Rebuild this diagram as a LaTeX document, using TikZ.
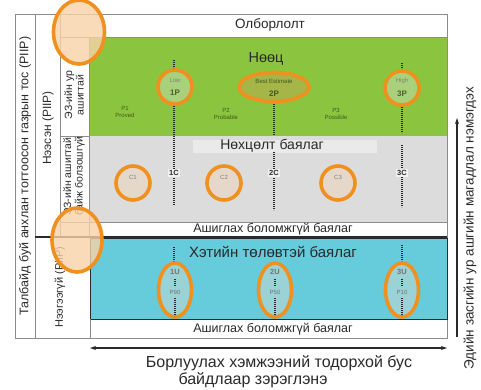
\documentclass[tikz,border=0pt]{standalone}
\usepackage{fontspec}
\setmainfont{Liberation Sans}
\usetikzlibrary{arrows.meta,shapes.geometric}
\definecolor{bandgreen}{HTML}{8BC53F}
\definecolor{bandgrey}{HTML}{DCDCDC}
\definecolor{bandblue}{HTML}{66CBDB}
\definecolor{ringorange}{HTML}{F0901E}
\definecolor{peach}{HTML}{F9D2A8}
\definecolor{framegrey}{HTML}{8C8C8C}
\definecolor{pgreen}{HTML}{A9D07A}
\definecolor{polive}{HTML}{A5B548}
\definecolor{cbeige}{HTML}{E6D7CB}
\definecolor{uteal}{HTML}{9AD2D6}
\definecolor{darktxt}{HTML}{2A2A2A}
\definecolor{lbltxt}{HTML}{3F5A22}
\tikzset{
  frameline/.style={draw=framegrey, line width=0.8pt},
  ring/.style={draw=ringorange, line width=3.6pt},
  dotline/.style={draw=darktxt, line width=2pt, dash pattern=on 1.1pt off 0.9pt},
  small/.style={font=\fontsize{6}{7}\selectfont, text=lbltxt, align=center, inner sep=0pt},
  inner/.style={font=\fontsize{6}{7}\selectfont, text=gray, inner sep=0pt},
  bold/.style={font=\fontsize{8}{9}\selectfont\bfseries, inner sep=0pt},
  band/.style={font=\fontsize{12.5}{14}\selectfont, text=darktxt, inner sep=0pt},
  title/.style={font=\fontsize{14}{16}\selectfont, text=darktxt, inner sep=0pt},
  side/.style={font=\fontsize{12.5}{14}\selectfont, text=darktxt, rotate=90, inner sep=0pt},
}
\begin{document}
\begin{tikzpicture}[x=1pt,y=-1pt]
\useasboundingbox (0,0) rectangle (481,389);
% bands
\fill[bandgreen] (89,37) rectangle (447,136);
\fill[bandgrey] (89,136) rectangle (447,222);
\fill[bandblue] (90,238) rectangle (447,319);
% grid lines
\draw[frameline] (15,14) rectangle (447,338);
\draw[frameline] (35,14) -- (35,338);
\draw[frameline] (60,14) -- (60,237);
\draw[frameline] (60,37) -- (447,37);
\draw[frameline] (89,37) -- (89,237);
\draw[frameline] (60,136) -- (89,136);
\draw[frameline] (60,222) -- (447,222);
\draw[draw=darktxt, line width=0.9pt] (90,238) rectangle (447,319);
\draw[draw=darktxt, line width=1.6pt] (35,237) -- (447,237);
\draw[frameline] (90,319) -- (90,338);
% light box behind title
\node[fill=white!40!bandgrey, minimum width=184pt, minimum height=13pt, inner sep=0pt] (nbox) at (285,146) {};
% dotted lines
\coordinate (d1a) at (174,60); \coordinate (d1b) at (174,205);
\coordinate (d2a) at (274,100); \coordinate (d2b) at (274,135);
\coordinate (d2c) at (274,152); \coordinate (d2d) at (274,210);
\coordinate (d3a) at (402,63); \coordinate (d3b) at (402,133);
\coordinate (d3c) at (402,145); \coordinate (d3d) at (402,207);
\coordinate (u1a) at (174,247); \coordinate (u1b) at (174,318);
\coordinate (u3a) at (402,245); \coordinate (u3b) at (402,318);
\draw[dotline] (d1a) -- (d1b);
\draw[dotline] (d2a) -- (d2b);
\draw[dotline] (d2c) -- (d2d);
\draw[dotline] (d3a) -- (d3b);
\draw[dotline] (d3c) -- (d3d);
\draw[dotline] (u1a) -- (u1b);
\draw[dotline] (u3a) -- (u3b);
\coordinate (u2a) at (275,270); \coordinate (u2b) at (275,318);
\draw[dotline] (u2a) -- (u2b);
% C labels on lines
\node[bold, fill=white!60!bandgrey, inner sep=1pt, font=\fontsize{7.5}{8}\selectfont\bfseries, text=darktxt] (c1l) at (174,173) {1C};
\node[bold, fill=white!60!bandgrey, inner sep=1pt, font=\fontsize{7.5}{8}\selectfont\bfseries, text=darktxt] (c2l) at (274,173) {2C};
\node[bold, fill=white!60!bandgrey, inner sep=1pt, font=\fontsize{7.5}{8}\selectfont\bfseries, text=darktxt] (c3l) at (402,173) {3C};
% texts in bands
\node[title, font=\fontsize{13.5}{15}\selectfont] (olb) at (270,25) {Олборлолт};
\node[title, font=\fontsize{14.5}{16}\selectfont] (noots) at (266,59) {Нөөц};
\node[small] (p1) at (125,112) {P1\\Proved};
\node[small] (p2) at (226,114) {P2\\Probable};
\node[small] (p3) at (336,114) {P3\\Possible};
\node[title] (nokh) at (272,146) {Нөхцөлт баялаг};
\node[band] (ash1) at (273,229.5) {Ашиглах боломжгүй баялаг};
\node[title, font=\fontsize{15}{17}\selectfont] (khet) at (273,252) {Хэтийн төлөвтэй баялаг};
\node[band] (ash2) at (273,329) {Ашиглах боломжгүй баялаг};
% P ellipses
\node[circle, ring, fill=pgreen, minimum size=34pt] (e1p) at (175,87) {};
\node[inner] at (175,80) {Low};
\node[bold, text=lbltxt!80!gray] (t1p) at (175,93) {1P};
\node[ellipse, ring, fill=polive, minimum width=70pt, minimum height=29pt] (e2p) at (274,87) {};
\node[inner, text=lbltxt] at (274,81) {Best Estimate};
\node[bold, text=lbltxt] (t2p) at (274,94) {2P};
\node[circle, ring, fill=pgreen, minimum size=34pt] (e3p) at (402,88) {};
\node[inner] at (402,81) {High};
\node[bold, text=lbltxt!80!gray] (t3p) at (402,94) {3P};
% C circles
\node[circle, ring, fill=cbeige, minimum size=34pt] (ec1) at (133,183) {};
\node[inner] at (133,177) {C1};
\node[circle, ring, fill=cbeige, minimum size=34pt] (ec2) at (224,183) {};
\node[inner] at (224,177) {C2};
\node[circle, ring, fill=cbeige, minimum size=34pt] (ec3) at (338,183) {};
\node[inner] at (338,177) {C3};
% U ellipses
\foreach \x/\n/\p in {175/1/P90, 275/2/P50, 402/3/P10}{
  \node[ellipse, ring, fill=uteal, minimum width=33pt, minimum height=54pt] (eu\n) at (\x,290) {};
  \draw[dotline] (\x,279) -- (\x,286);
  \draw[dotline] (\x,298) -- (\x,316);
  \node[bold, text=gray!90!black, font=\fontsize{7.5}{8}\selectfont\bfseries] (tu\n) at (\x,272) {\n U};
  \node[inner, text=gray!90!black] (pu\n) at (\x,292) {\p};
}
% left labels
\node[side] (lab1) at (25,176) {Талбайд буй анхлан тогтоосон газрын тос (PIIP)};
\node[side, font=\fontsize{12}{14}\selectfont] (lab2) at (48,128) {Нээсэн (PIIP)};
\node[side, font=\fontsize{11}{13}\selectfont] (lab3) at (60,287) {Нээгээгүй (PIIP)};
\node[side, font=\fontsize{10.5}{11.5}\selectfont, align=center] (lab4) at (74,95) {ЭЗ-ийн ур\\ашигтай};
\begin{scope}
\clip (60,136.5) rectangle (89,222);
\node[side, font=\fontsize{10.5}{11.5}\selectfont, align=left, anchor=west] (lab5) at (74,216) {ЭЗ-ийн ашигтай\\байж болзошгүй};
\end{scope}
% highlight ellipses
\node[ellipse, ring, fill=peach, fill opacity=0.8, minimum width=51pt, minimum height=64pt] (hl1) at (79,32) {};
\node[ellipse, ring, fill=peach, fill opacity=0.8, minimum width=50pt, minimum height=64pt] (hl2) at (77,240) {};
% bottom arrow & text
\coordinate (bl) at (90,348); \coordinate (br) at (447,348);
\draw[darktxt, line width=1.3pt, {Stealth[length=6pt,width=4pt]}-{Stealth[length=6pt,width=4pt]}] (bl) -- (br);
\node[title, font=\fontsize{16}{18}\selectfont] (bt1) at (279,363) {Борлуулах хэмжээний тодорхой бус};
\node[title, font=\fontsize{16}{18}\selectfont] (bt2) at (253,380) {байдлаар зэрэглэнэ};
% right arrow & text
\coordinate (rb) at (457,337); \coordinate (rt) at (457,118);
\draw[darktxt, line width=1.3pt, -{Stealth[length=6pt,width=4pt]}] (rb) -- (rt);
\node[side, font=\fontsize{13.5}{15}\selectfont] (rtxt) at (470,228) {Эдийн засгийн ур ашгийн магадлал нэмэгдэх};
\end{tikzpicture}
\end{document}
